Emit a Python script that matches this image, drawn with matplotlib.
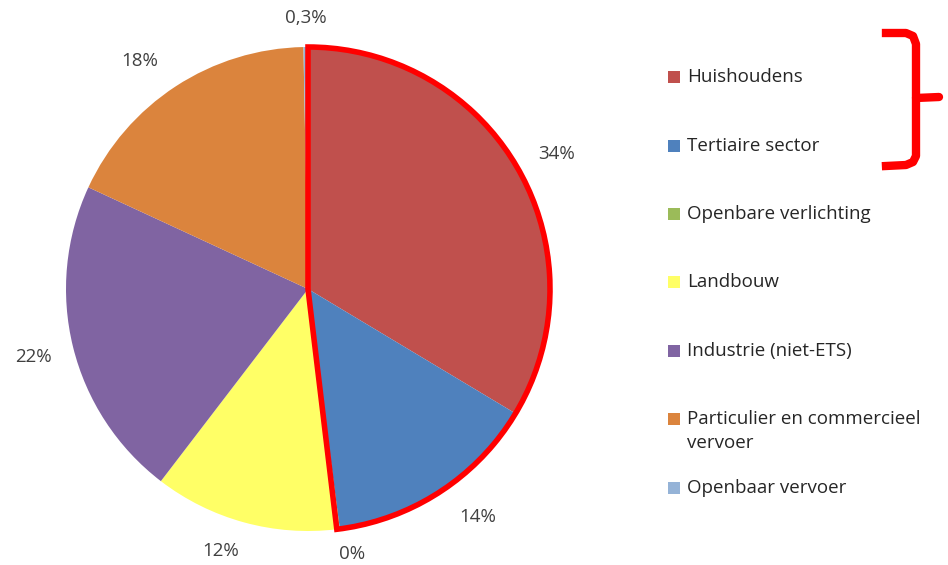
import numpy as np
import matplotlib.pyplot as plt
from matplotlib.patches import Wedge, Rectangle
from matplotlib.lines import Line2D

plt.rcParams['font.family'] = ['Open Sans', 'DejaVu Sans']

# data (clockwise from 12 o'clock)
categories = ['Huishoudens', 'Tertiaire sector', 'Openbare verlichting', 'Landbouw',
              'Industrie (niet-ETS)', 'Particulier en commercieel\nvervoer', 'Openbaar vervoer']
shares = [33.6, 14.3, 0.2, 12.3, 21.5, 17.8, 0.3]
pct_labels = ['34%', '14%', '0%', '12%', '22%', '18%', '0,3%']
colors = ['#C0504D', '#4F81BD', '#9BBB59', '#FFFF66', '#8064A2', '#DB843D', '#95B3D7']
highlight_n = 3  # first three slices outlined in red

# label placement: distance from centre (in radii) and angle nudge (deg), per slice
label_dist = [1.17, 1.175, 1.11, 1.14, 1.17, 1.17, 1.12]
label_nudge = [-1.0, 3.4, 2.3, -3.2, 0.0, 3.4, 0.0]

W, H = 948, 565
fig = plt.figure(figsize=(W / 100, H / 100), dpi=100)

cx, cy, r = 308, 289, 242
ax = fig.add_axes([(cx - r) / W, (H - cy - r) / H, 2 * r / W, 2 * r / H])
wedges, _ = ax.pie(shares, colors=colors, startangle=90, counterclock=False,
                   radius=1, wedgeprops=dict(linewidth=0))
ax.set_xlim(-1, 1)
ax.set_ylim(-1, 1)
ax.axis('off')

# percentage labels just outside each slice
for w, lab, d, nd in zip(wedges, pct_labels, label_dist, label_nudge):
    mid = np.deg2rad((w.theta1 + w.theta2) / 2 + nd)
    ax.text(d * np.cos(mid), d * np.sin(mid), lab, ha='center', va='center',
            fontsize=13.5, color='#404040', clip_on=False)

# red outline around the highlighted slices
t1 = wedges[highlight_n - 1].theta1
t2 = wedges[0].theta2
ax.add_patch(Wedge((0, 0), 1, t1, t2, fill=False, edgecolor='#FF0000',
                   linewidth=4, joinstyle='miter', zorder=5, clip_on=False))

# legend, drawn by hand to match the spacing
leg_y = [77, 146, 214, 282, 351, 419, 488]
for name, c, y in zip(categories, colors, leg_y):
    fig.add_artist(Rectangle((668 / W, 1 - (y + 6) / H), 12 / W, 12 / H,
                             facecolor=c, edgecolor='none'))
    fig.text(687 / W, 1 - (y - 9) / H, name, ha='left', va='top',
             fontsize=13.5, color='#262626', linespacing=1.42)

# red curly bracket
def px(pts):
    xs = [p[0] / W for p in pts]
    ys = [1 - p[1] / H for p in pts]
    return xs, ys

xs, ys = px([(886, 33), (906, 33), (913, 36), (916, 44), (916, 156), (913, 162),
             (906, 165), (886, 166)])
fig.add_artist(Line2D(xs, ys, color='#FF0000', linewidth=6, solid_joinstyle='round'))
xs, ys = px([(916, 98), (939, 97)])
fig.add_artist(Line2D(xs, ys, color='#FF0000', linewidth=6, solid_capstyle='round'))

fig.savefig('out.png', dpi=100)
